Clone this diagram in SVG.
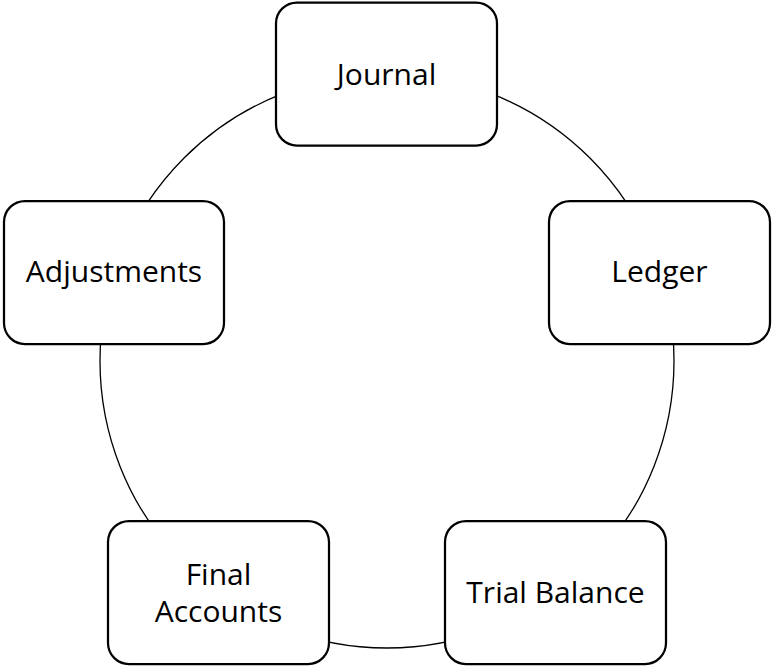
<svg xmlns="http://www.w3.org/2000/svg" width="774" height="666" viewBox="0 0 774 666">
<style>
.node{fill:#fff;stroke:#000;stroke-width:2.25}
.lbl{font-family:"Open Sans","Noto Sans",sans-serif;font-size:30px;fill:#000;text-anchor:middle}
.conn{fill:none;stroke:#000;stroke-width:1.3}
</style>
<rect width="774" height="666" fill="#fff"/>
<g id="connectors">
<circle class="conn" cx="387" cy="361" r="287"/>
</g>
<g id="journal">
<rect class="node" x="276" y="2.5" width="221" height="143" rx="21"/>
<text class="lbl" x="386.5" y="85">Journal</text>
</g>
<g id="ledger">
<rect class="node" x="549" y="201" width="221" height="143" rx="21"/>
<text class="lbl" x="659.5" y="282">Ledger</text>
</g>
<g id="trial-balance">
<rect class="node" x="445" y="521" width="221" height="143" rx="21"/>
<text class="lbl" x="555.5" y="603">Trial Balance</text>
</g>
<g id="final-accounts">
<rect class="node" x="108" y="521" width="221" height="143" rx="21"/>
<text class="lbl" x="218.5" y="585">Final</text>
<text class="lbl" x="218.5" y="622">Accounts</text>
</g>
<g id="adjustments">
<rect class="node" x="4" y="201" width="220" height="143" rx="21"/>
<text class="lbl" x="114" y="282">Adjustments</text>
</g>
</svg>
